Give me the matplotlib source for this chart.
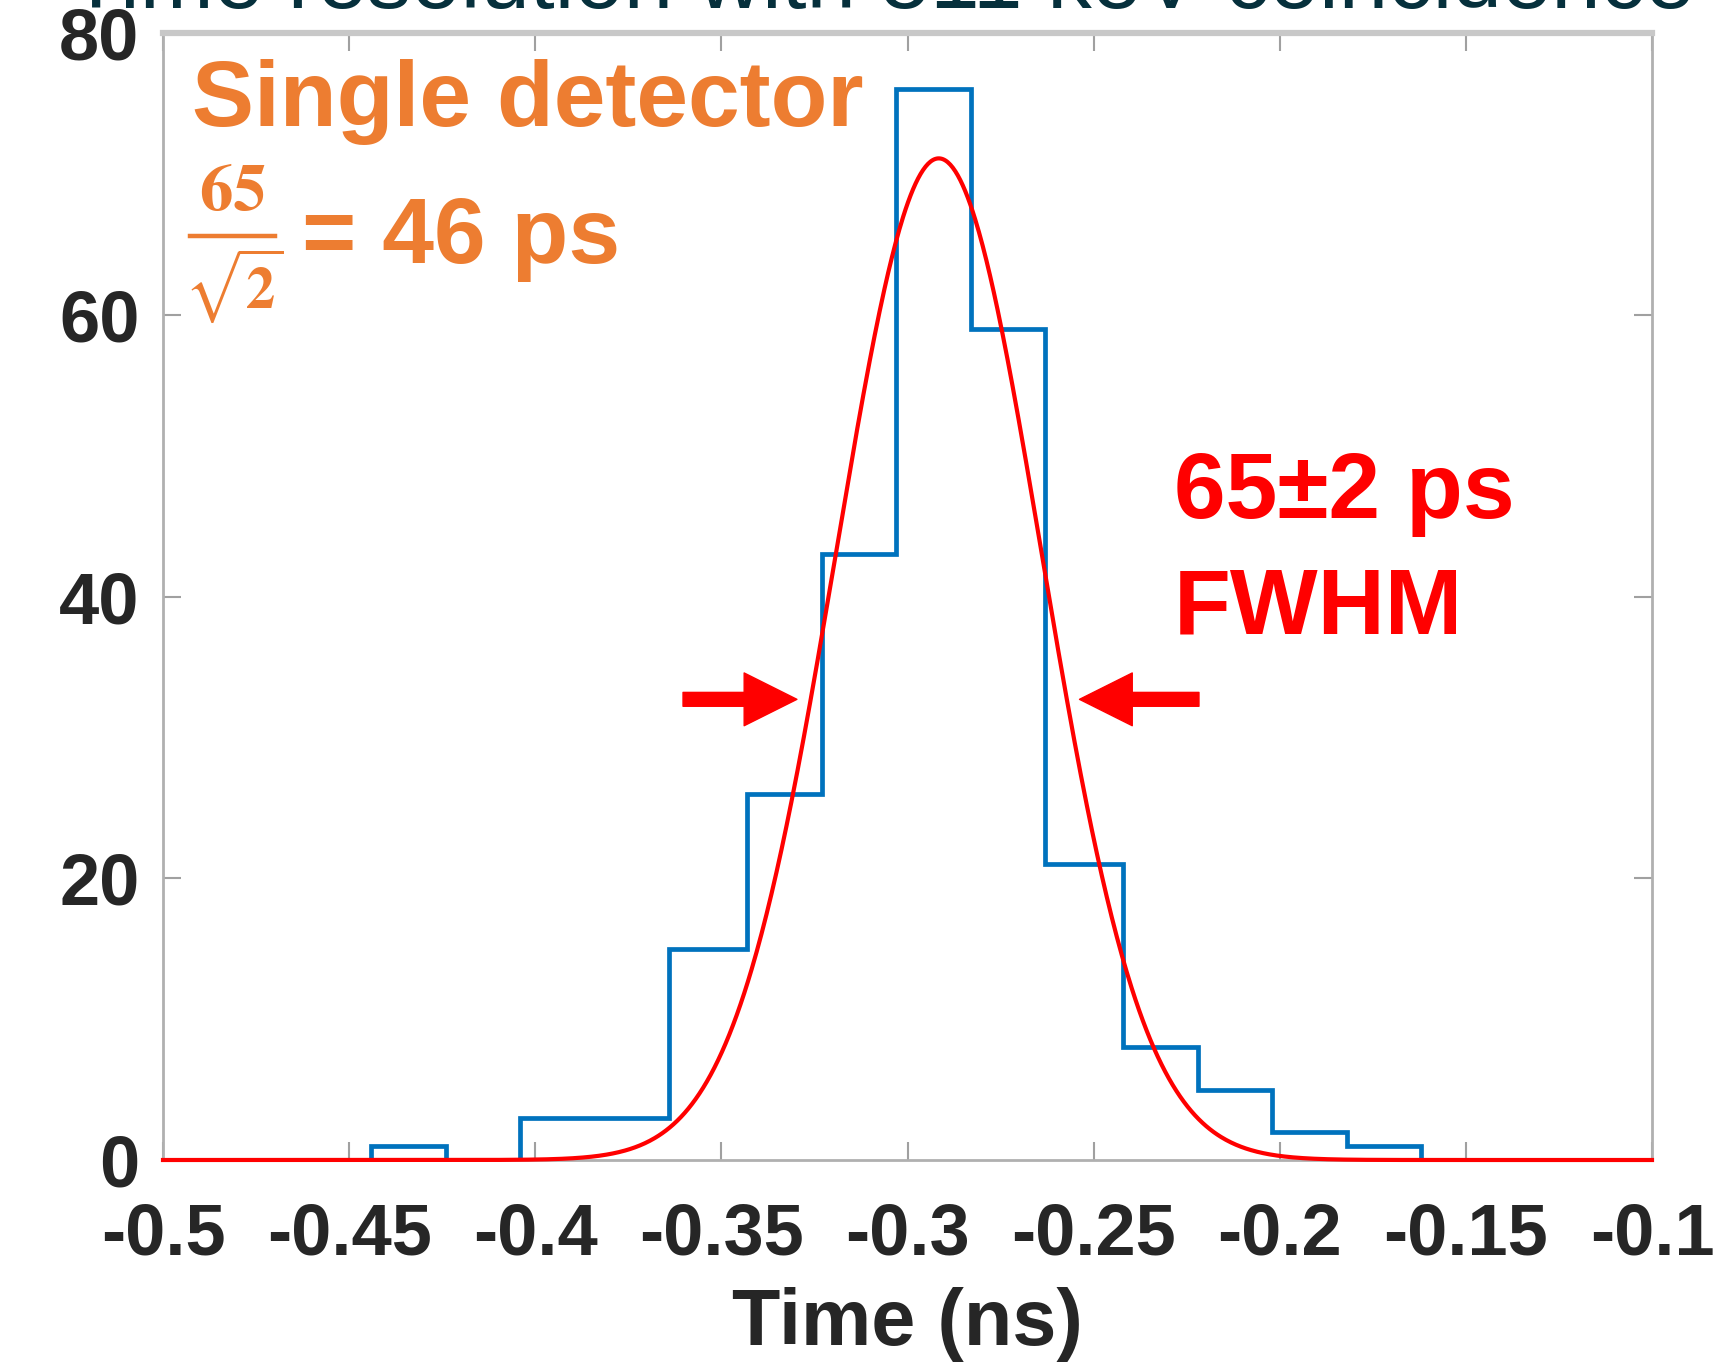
import numpy as np
import matplotlib
matplotlib.use("Agg")
import matplotlib.pyplot as plt
from matplotlib.patches import FancyArrowPatch
from matplotlib.lines import Line2D

# ---- data ----
bin_edges = [-0.444, -0.424, -0.404, -0.384, -0.364, -0.343, -0.323, -0.303,
             -0.283, -0.263, -0.242, -0.222, -0.202, -0.182, -0.162]
counts = [1, 0, 3, 3, 15, 26, 43, 76, 59, 21, 8, 5, 2, 1]

fit_amplitude = 71.1      # counts
fit_mean = -0.2916        # ns
fit_fwhm = 0.065          # ns (65 ps)

xticks = [-0.5, -0.45, -0.4, -0.35, -0.3, -0.25, -0.2, -0.15, -0.1]
xtick_labels = ["-0.5", "-0.45", "-0.4", "-0.35", "-0.3", "-0.25", "-0.2", "-0.15", "-0.1"]
yticks = [0, 20, 40, 60, 80]
ytick_labels = ["0", "20", "40", "60", "80"]

arrow_level = 32.7
left_arrow = (-0.3603, -0.3297)   # tail, tip
right_arrow = (-0.2217, -0.2538)  # tail, tip

title_text = "Time resolution with 511 keV coincidence"
single_text = "Single detector"
frac_num = r"$\mathbf{65}$"
frac_den = r"$\sqrt{\mathbf{2}}$"
eq_text = "= 46 ps"
fwhm_text1 = "65\u00b12 ps"
fwhm_text2 = "FWHM"
xlabel_text = "Time (ns)"

# ---- figure ----
plt.rcParams["mathtext.fontset"] = "stix"
W, H = 1736, 1364
fig = plt.figure(figsize=(W / 100, H / 100), dpi=100)
fig.patch.set_facecolor("white")

def fx(px):
    return px / W

def fy(py):
    return 1 - py / H

ax_l, ax_r, ax_t, ax_b = 163, 1652, 33, 1160
ax = fig.add_axes([fx(ax_l), fy(ax_b), (ax_r - ax_l) / W, (ax_b - ax_t) / H])

sans = ["Liberation Sans", "DejaVu Sans"]
orange = "#ED7D31"
red = "#FF0000"
blue = "#0072BD"
dark = "#262626"

# histogram
ax.stairs(counts, bin_edges, baseline=0, fill=False, color=blue, linewidth=3.4, zorder=3)

# gaussian fit
sigma = fit_fwhm / (2 * np.sqrt(2 * np.log(2)))
xf = np.linspace(-0.5, -0.1, 1200)
yf = fit_amplitude * np.exp(-0.5 * ((xf - fit_mean) / sigma) ** 2)
ax.plot(xf, yf, color=red, linewidth=3.0, zorder=4, clip_on=False)

ax.set_xlim(-0.5, -0.1)
ax.set_ylim(0, 80)
ax.set_xticks(xticks)
ax.set_xticklabels(xtick_labels)
ax.set_yticks(yticks)
ax.set_yticklabels(ytick_labels)

for lab in ax.get_xticklabels() + ax.get_yticklabels():
    lab.set_family(sans)
    lab.set_fontweight("bold")
    lab.set_fontsize(52)
    lab.set_color(dark)

ax.tick_params(axis="both", direction="in", length=13, width=1.5, color="#a0a0a0",
               top=True, right=True)
ax.tick_params(axis="x", pad=30)
ax.tick_params(axis="y", pad=17)

for side, sp in ax.spines.items():
    sp.set_color("#b0b0b0")
    sp.set_linewidth(2.0)
ax.spines["top"].set_color("#c8c8c8")
ax.spines["top"].set_linewidth(4.5)

# arrows
for tail, tip in (left_arrow, right_arrow):
    arr = FancyArrowPatch((tail, arrow_level), (tip, arrow_level),
                          arrowstyle="simple,head_length=38,head_width=38,tail_width=10",
                          mutation_scale=1, color=red, shrinkA=0, shrinkB=0, zorder=5)
    ax.add_patch(arr)

# texts
fig.text(fx(69), fy(8), title_text, family=sans, fontsize=64, color="#06303c",
         ha="left", va="baseline")
fig.text(fx(192), fy(126), single_text, family=sans, fontweight="bold", fontsize=67,
         color=orange, ha="left", va="baseline")

# fraction 65 / sqrt(2)
fig.text(fx(232), fy(210), frac_num, fontsize=48, color=orange, ha="center", va="baseline")
fig.add_artist(Line2D([fx(190), fx(275)], [fy(236), fy(236)], color=orange, linewidth=3.2))
fig.text(fx(234), fy(308), frac_den, fontsize=42, color=orange, ha="center", va="baseline")

fig.text(fx(302), fy(263), eq_text, family=sans, fontweight="bold", fontsize=67,
         color=orange, ha="left", va="baseline")
fig.text(fx(1174), fy(518), fwhm_text1, family=sans, fontweight="bold", fontsize=67,
         color=red, ha="left", va="baseline")
fig.text(fx(1174), fy(633), fwhm_text2, family=sans, fontweight="bold", fontsize=67,
         color=red, ha="left", va="baseline")
fig.text(fx(907), fy(1345), xlabel_text, family=sans, fontweight="bold", fontsize=57,
         color=dark, ha="center", va="baseline")

fig.savefig("out.png", dpi=100, facecolor="white")
